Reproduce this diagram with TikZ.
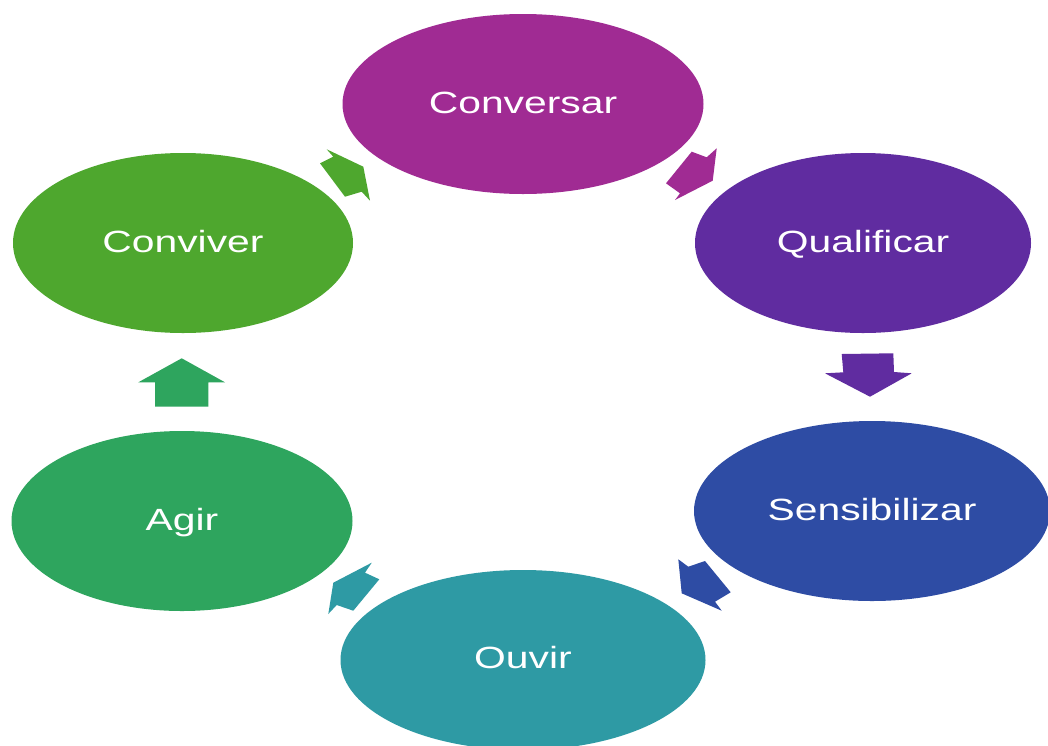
\documentclass[tikz,border=0pt]{standalone}
\usepackage{fontspec}
\setmainfont{Liberation Sans}
\usetikzlibrary{shapes.geometric}
\definecolor{cConversar}{RGB}{160,43,147}
\definecolor{cQualificar}{RGB}{96,44,160}
\definecolor{cSensibilizar}{RGB}{46,76,164}
\definecolor{cOuvir}{RGB}{46,154,164}
\definecolor{cAgir}{RGB}{46,165,94}
\definecolor{cConviver}{RGB}{78,167,46}
\newcommand{\widetext}[1]{\scalebox{1.33}[1]{#1}}
\begin{document}
\begin{tikzpicture}[x=1pt,y=-1pt,
  stage/.style={ellipse, draw=none, inner sep=0pt},
  lbl/.style={text=white, inner sep=0pt, font=\fontsize{30.7}{36}\selectfont,
    text height=22pt, text depth=0pt}]
\useasboundingbox (0,0) rectangle (1048,745);
\clip (0,0) rectangle (1048,745);
\fill[white] (0,0) rectangle (1048,745);

% stages of the cycle
\node[stage, fill=cConversar,    minimum width=361pt, minimum height=180pt] (conversar)    at (523,104) {};
\node[stage, fill=cQualificar,   minimum width=336pt, minimum height=180pt] (qualificar)   at (863,243) {};
\node[stage, fill=cSensibilizar, minimum width=356pt, minimum height=180pt] (sensibilizar) at (872,511) {};
\node[stage, fill=cOuvir,        minimum width=365pt, minimum height=180pt] (ouvir)        at (523,660) {};
\node[stage, fill=cAgir,         minimum width=341pt, minimum height=180pt] (agir)         at (182,521) {};
\node[stage, fill=cConviver,     minimum width=340pt, minimum height=180pt] (conviver)     at (183,243) {};

% labels
\node[lbl] (conversar-t)    at ([yshift=2pt]conversar.center)    {\widetext{Conversar}};
\node[lbl] (qualificar-t)   at ([yshift=2pt]qualificar.center)   {\widetext{Qualificar}};
\node[lbl] (sensibilizar-t) at ([yshift=2pt]sensibilizar.center) {\widetext{Sensibilizar}};
\node[lbl] (ouvir-t)        at ([yshift=3pt]ouvir.center)        {\widetext{Ouvir}};
\node[lbl] (agir-t)         at ([yshift=2pt]agir.center)         {\widetext{Agir}};
\node[lbl] (conviver-t)     at ([yshift=2pt]conviver.center)     {\widetext{Conviver}};

% block arrows between the stages
\fill[cConviver] (326.7,149.3) -- (333.3,156.7) -- (320,163.3) -- (345,196.7)
  -- (361.7,191.7) -- (370,200.7) -- (363.3,166.7) -- cycle;
\fill[cConversar] (691.7,151.7) -- (706.7,157.3) -- (716.7,148.3) -- (712.7,180.7)
  -- (675,200) -- (680,193.3) -- (666,183.3) -- cycle;
\fill[cQualificar] (841.7,354) -- (893.3,353.3) -- (894,372) -- (911.7,373.3)
  -- (870,396.7) -- (825,373.3) -- (843.3,372.3) -- cycle;
\fill[cSensibilizar] (678.3,559.3) -- (688.3,566.7) -- (705,561) -- (730.7,592.3)
  -- (715,601.7) -- (721.7,610.7) -- (681.7,593.3) -- cycle;
\fill[cOuvir] (371.7,562.7) -- (365,572.7) -- (379.3,579.3) -- (353.3,610.7)
  -- (336.7,605) -- (328.3,614) -- (333.3,582.7) -- cycle;
\fill[cAgir] (181.7,358.3) -- (225,382.3) -- (208.3,382.3) -- (208.3,406.7)
  -- (155,406.7) -- (155,382.3) -- (138.3,382.3) -- cycle;
\end{tikzpicture}
\end{document}
